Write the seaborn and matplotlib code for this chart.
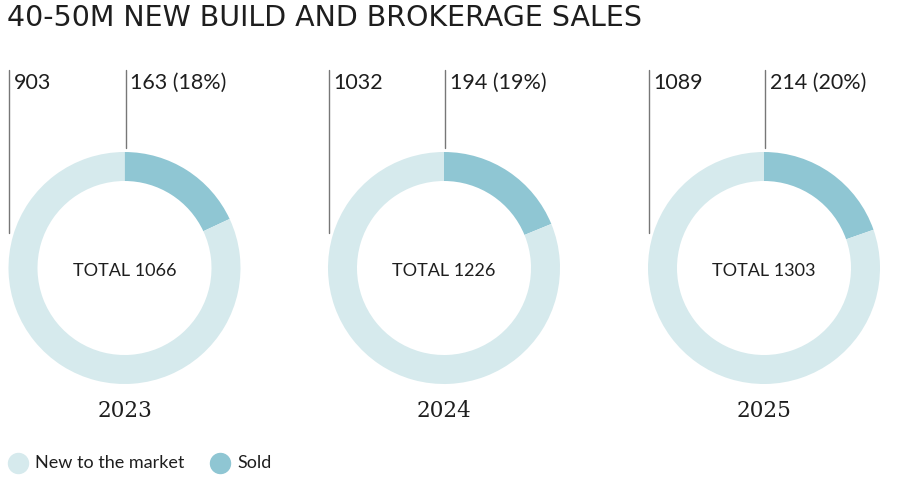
import matplotlib
matplotlib.use("Agg")
import matplotlib.pyplot as plt
from matplotlib.lines import Line2D
import seaborn as sns

years = ["2023", "2024", "2025"]
new_to_market = [903, 1032, 1089]
sold = [163, 194, 214]
sold_pct = [18, 19, 20]
totals = [1066, 1226, 1303]
series_names = ["New to the market", "Sold"]
title = "40-50M NEW BUILD AND BROKERAGE SALES"

sns.set_theme(style="white")
plt.rcParams["font.family"] = ["Lato", "DejaVu Sans"]

LIGHT = "#d6eaed"
DARK = "#8fc6d3"
TXT = "#1e1e1e"
LINE = "#777777"

W, H = 906, 504
fig = plt.figure(figsize=(W / 100, H / 100), dpi=100)
fig.patch.set_facecolor("white")

def fx(x):
    return x / W

def fy(y):
    return 1 - y / H

fig.text(fx(7), fy(18), title, fontsize=20.5, color=TXT, va="center", ha="left",
         family=["DejaVu Sans"])

centers = [124.5, 444.0, 764.0]
cy = 268
R = 116
for i, yr in enumerate(years):
    cx = centers[i]
    ax = fig.add_axes([fx(cx - R), fy(cy + R), 2 * R / W, 2 * R / H])
    ax.pie([sold[i], new_to_market[i] - sold[i]], colors=[DARK, LIGHT], startangle=90,
           counterclock=False, radius=1, wedgeprops=dict(width=0.25, linewidth=0))
    ax.set_xlim(-1, 1)
    ax.set_ylim(-1, 1)
    ax.set_aspect("equal")
    ax.axis("off")
    fig.text(fx(cx), fy(271), f"TOTAL {totals[i]}", ha="center", va="center",
             fontsize=13, color=TXT)
    lx = cx - 115.5
    fig.add_artist(Line2D([fx(lx), fx(lx)], [fy(70), fy(233)], color=LINE, lw=1,
                          transform=fig.transFigure))
    fig.add_artist(Line2D([fx(cx + 1), fx(cx + 1)], [fy(70), fy(148)], color=LINE, lw=1,
                          transform=fig.transFigure))
    fig.text(fx(lx + 5), fy(83), f"{new_to_market[i]}", fontsize=15.5, color=TXT,
             ha="left", va="center")
    fig.text(fx(cx + 6), fy(83), f"{sold[i]} ({sold_pct[i]}%)", fontsize=15.5, color=TXT,
             ha="left", va="center")
    fig.text(fx(cx), fy(411), yr, fontsize=15.5, color=TXT, ha="center", va="center",
             family=["DejaVu Serif"])

for (mx, tx, name, col) in [(18, 35, series_names[0], LIGHT), (220, 237, series_names[1], DARK)]:
    fig.add_artist(Line2D([fx(mx)], [fy(463)], marker="o", markersize=14.4, color=col,
                          linestyle="none", transform=fig.transFigure))
    fig.text(fx(tx), fy(463), name, fontsize=13, color=TXT, ha="left", va="center")

fig.savefig("out.png", dpi=100, facecolor="white")
